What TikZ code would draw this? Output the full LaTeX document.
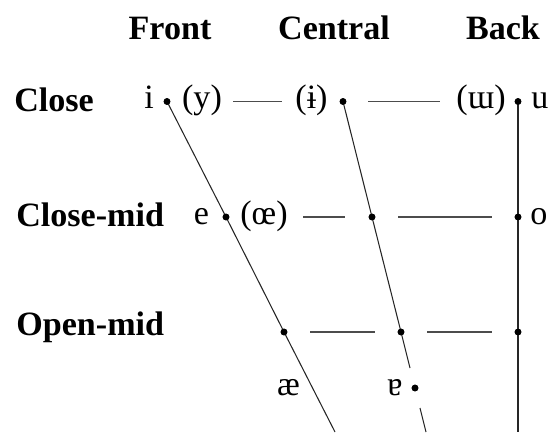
\documentclass[tikz,border=0pt]{standalone}
\usepackage{fontspec}
\setmainfont{Liberation Serif}
\usetikzlibrary{positioning}
\newcommand{\vowelsize}{\fontsize{19.4}{23}\selectfont}
\tikzset{
	vdot/.style   ={circle, fill=black, inner sep=0pt, minimum size=3.8pt},
	hdr/.style    ={anchor=base, inner sep=0pt, font=\bfseries\vowelsize},
	rowlbl/.style ={anchor=base west, inner sep=0pt, font=\bfseries\vowelsize},
	sym/.style    ={anchor=base, inner sep=0pt, font=\vowelsize},
	edge/.style   ={line width=0.6pt, black!85},
	link/.style   ={line width=0.9pt, black!70},
}

\begin{document}
\begin{tikzpicture}[x=0.02cm, y=-0.02cm]
	\useasboundingbox (0,0) rectangle (550,432);
	% column and row headings
	\node[hdr] (front) at (170,40) {Front};
	\node[hdr] (central) at (334,40) {Central};
	\node[hdr] (back) at (503,40) {Back};
	\node[rowlbl] (close) at (14,112) {Close};
	\node[rowlbl] (closemid) at (16,226) {Close-mid};
	\node[rowlbl] (openmid) at (16,335) {Open-mid};
	% vowel points
	\node[vdot] (cf) at (167,101.5) {};
	\node[vdot] (cc) at (343,101.5) {};
	\node[vdot] (cb) at (518,101.5) {};
	\node[vdot] (mf) at (226,217) {};
	\node[vdot] (mc) at (372,217) {};
	\node[vdot] (mb) at (518,217) {};
	\node[vdot] (of) at (284,332) {};
	\node[vdot] (oc) at (401,332) {};
	\node[vdot] (ob) at (518,332) {};
	\node[vdot] (ac) at (415,388) {};
	\coordinate (fbot) at (335,432);
	\coordinate (cgap1) at (410,368);
	\coordinate (cgap2) at (420,408);
	\coordinate (cbot) at (426,432);
	\coordinate (bbot) at (518,432);
	% vowel symbols
	\node[sym] (i) at (149,109) {i};
	\node[sym] (y) at (202,109) {(y)};
	\node[sym] (ibar) at (311.5,109) {(ɨ)};
	\node[sym] (turnm) at (481,109) {(ɯ)};
	\node[sym] (u) at (540,109) {u};
	\node[sym] (e) at (201.5,224) {e};
	\node[sym] (oe) at (264,224) {(œ)};
	\node[sym] (o) at (539,224) {o};
	\node[sym] (ae) at (288.5,395.5) {æ};
	\node[sym] (turna) at (395,395.5) {ɐ};
	% chart lines
	\draw[edge] (cf.center) -- (mf.center) -- (of.center) -- (fbot);
	\draw[edge] (cc.center) -- (mc.center) -- (oc.center) -- (cgap1);
	\draw[edge] (cgap2) -- (cbot);
	\draw[edge] (cb.center) -- (mb.center) -- (ob.center) -- (bbot);
	% short connecting dashes
	\coordinate (d1) at (233,101.5);
	\coordinate (d2) at (282,101.5);
	\coordinate (d3) at (368,101.5);
	\coordinate (d4) at (440,101.5);
	\coordinate (d5) at (303,217);
	\coordinate (d6) at (345,217);
	\coordinate (d7) at (398,217);
	\coordinate (d8) at (492,217);
	\coordinate (d9) at (310,332);
	\coordinate (d10) at (375,332);
	\coordinate (d11) at (427,332);
	\coordinate (d12) at (492,332);
	\draw[link] (d1) -- (d2);
	\draw[link] (d3) -- (d4);
	\draw[link] (d5) -- (d6);
	\draw[link] (d7) -- (d8);
	\draw[link] (d9) -- (d10);
	\draw[link] (d11) -- (d12);
	% dots on top
	\foreach \p in {cf,cc,cb,mf,mc,mb,of,oc,ob,ac}
		\fill (\p) circle (1.9pt);
\end{tikzpicture}
\end{document}
